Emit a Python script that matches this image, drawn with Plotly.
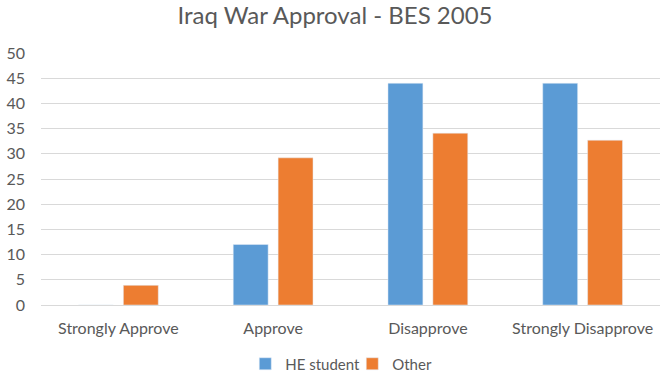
import plotly.graph_objects as go

categories = ["Strongly Approve", "Approve", "Disapprove", "Strongly Disapprove"]
he_student = [0, 12, 44, 44]
other = [3.9, 29.2, 34.1, 32.7]
y_ticks = [0, 5, 10, 15, 20, 25, 30, 35, 40, 45, 50]

fig = go.Figure()
fig.add_trace(go.Bar(name="HE student", x=categories, y=he_student, marker_color="#5B9BD5"))
fig.add_trace(go.Bar(name="Other", x=categories, y=other, marker_color="#ED7D31"))

font_family = "Lato, Open Sans, sans-serif"
fig.update_layout(
    width=670, height=381,
    margin=dict(l=41, r=10, t=53, b=76, autoexpand=False),
    paper_bgcolor="white", plot_bgcolor="white",
    barmode="group", bargap=0.42, bargroupgap=0.222,
    title=dict(text="Iraq War Approval - BES 2005", x=0.5, xanchor="center",
               y=1 - 16 / 381, yanchor="middle",
               font=dict(family=font_family, size=24, color="#595959")),
    font=dict(family=font_family, color="#595959", size=15),
    legend=dict(orientation="h", xref="paper", x=0.33, xanchor="left",
                yref="container", y=1 - 364 / 381, yanchor="middle",
                font=dict(size=15, color="#595959"), itemwidth=30,
                entrywidth=62, entrywidthmode="pixels"),
    showlegend=True,
)
fig.update_yaxes(range=[0, 50], tickvals=y_ticks, showgrid=True, gridcolor="#D9D9D9",
                 gridwidth=1, zeroline=True, zerolinecolor="#D9D9D9", zerolinewidth=1,
                 showline=False, ticks="", ticklabelstandoff=15,
                 tickfont=dict(size=16, color="#595959"))
fig.update_xaxes(showline=False, ticks="", ticklabelstandoff=12,
                 tickfont=dict(size=16, color="#595959"))

fig.write_html("out.html", config={"displayModeBar": False},
               post_script="document.body.style.margin='0';")
